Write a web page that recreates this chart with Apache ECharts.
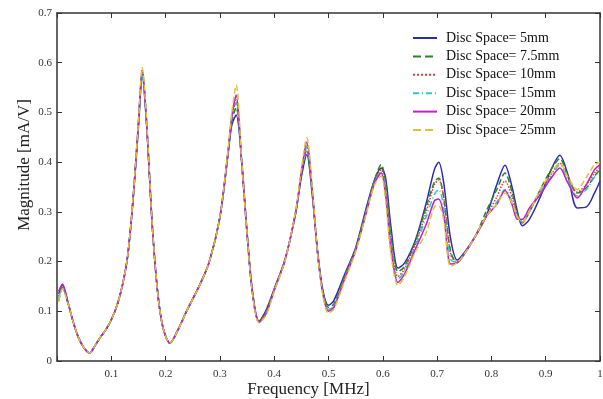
<!DOCTYPE html>
<html>
<head>
<meta charset="utf-8">
<script src="https://cdn.jsdelivr.net/npm/echarts@6/dist/echarts.min.js"></script>
<style>
  html, body { margin: 0; padding: 0; background: #fff; }
  #chart { width: 603px; height: 399px; }
</style>
</head>
<body>
<div id="chart"></div>
<script>
// frequency samples [MHz], shared by all curves
const freq = [
  0.003, 0.01, 0.02, 0.03, 0.04, 0.05, 0.06, 0.07, 0.08, 0.09,
  0.10, 0.11, 0.12, 0.13, 0.14, 0.15, 0.157, 0.165, 0.175, 0.185,
  0.195, 0.208, 0.22, 0.24, 0.26, 0.28, 0.30, 0.315, 0.322, 0.33,
  0.34, 0.35, 0.36, 0.372, 0.385, 0.40, 0.42, 0.44, 0.45, 0.46,
  0.47, 0.48, 0.49, 0.50, 0.51, 0.53, 0.55, 0.57, 0.585, 0.597,
  0.605, 0.615, 0.628, 0.64, 0.66, 0.68, 0.695, 0.703, 0.712, 0.725,
  0.737, 0.75, 0.77, 0.79, 0.81, 0.825, 0.838, 0.848, 0.857, 0.87,
  0.89, 0.91, 0.926, 0.94, 0.958, 0.975, 0.99, 1.0
];

const space5 = [
  0.135, 0.153, 0.118, 0.078, 0.046, 0.026, 0.016, 0.031, 0.048, 0.063,
  0.083, 0.11, 0.15, 0.21, 0.322, 0.47, 0.572, 0.475, 0.28, 0.142,
  0.068, 0.036, 0.057, 0.104, 0.147, 0.198, 0.288, 0.415, 0.475, 0.495,
  0.405, 0.26, 0.14, 0.08, 0.102, 0.145, 0.205, 0.3, 0.37, 0.415,
  0.335, 0.22, 0.14, 0.112, 0.122, 0.175, 0.228, 0.31, 0.365, 0.388,
  0.37, 0.27, 0.187, 0.197, 0.243, 0.318, 0.385, 0.4, 0.36, 0.245,
  0.203, 0.218, 0.25, 0.29, 0.355, 0.394, 0.35, 0.3, 0.272, 0.285,
  0.33, 0.385, 0.414, 0.378, 0.308, 0.31, 0.338, 0.362
];
const space7_5 = [
  0.12, 0.148, 0.117, 0.078, 0.046, 0.026, 0.016, 0.031, 0.048, 0.063,
  0.083, 0.11, 0.15, 0.21, 0.325, 0.478, 0.58, 0.48, 0.28, 0.142,
  0.068, 0.036, 0.056, 0.103, 0.146, 0.198, 0.29, 0.418, 0.482, 0.51,
  0.402, 0.257, 0.138, 0.079, 0.099, 0.143, 0.203, 0.3, 0.375, 0.425,
  0.34, 0.218, 0.137, 0.108, 0.115, 0.172, 0.226, 0.305, 0.365, 0.395,
  0.36, 0.255, 0.18, 0.19, 0.24, 0.31, 0.36, 0.368, 0.33, 0.22,
  0.198, 0.216, 0.25, 0.3, 0.345, 0.378, 0.34, 0.295, 0.278, 0.3,
  0.345, 0.385, 0.407, 0.375, 0.338, 0.348, 0.372, 0.385
];
const space10 = [
  0.13, 0.15, 0.118, 0.078, 0.046, 0.026, 0.016, 0.031, 0.048, 0.063,
  0.083, 0.11, 0.15, 0.21, 0.325, 0.48, 0.585, 0.48, 0.28, 0.142,
  0.068, 0.036, 0.056, 0.103, 0.146, 0.198, 0.29, 0.42, 0.488, 0.525,
  0.4, 0.256, 0.137, 0.078, 0.097, 0.143, 0.203, 0.302, 0.378, 0.435,
  0.342, 0.216, 0.135, 0.102, 0.11, 0.168, 0.224, 0.302, 0.362, 0.385,
  0.345, 0.24, 0.17, 0.185, 0.235, 0.3, 0.355, 0.364, 0.33, 0.215,
  0.198, 0.215, 0.25, 0.29, 0.33, 0.362, 0.33, 0.29, 0.278, 0.3,
  0.34, 0.375, 0.398, 0.37, 0.34, 0.355, 0.378, 0.39
];
const space15 = [
  0.125, 0.148, 0.117, 0.078, 0.046, 0.026, 0.016, 0.031, 0.048, 0.063,
  0.083, 0.11, 0.15, 0.21, 0.325, 0.478, 0.58, 0.48, 0.28, 0.142,
  0.068, 0.036, 0.056, 0.103, 0.146, 0.198, 0.29, 0.42, 0.488, 0.52,
  0.4, 0.256, 0.137, 0.078, 0.096, 0.143, 0.203, 0.302, 0.378, 0.43,
  0.342, 0.216, 0.135, 0.104, 0.11, 0.168, 0.224, 0.302, 0.36, 0.38,
  0.34, 0.235, 0.165, 0.18, 0.23, 0.29, 0.335, 0.345, 0.31, 0.205,
  0.198, 0.215, 0.25, 0.29, 0.32, 0.345, 0.32, 0.29, 0.28, 0.3,
  0.34, 0.37, 0.395, 0.365, 0.332, 0.345, 0.37, 0.38
];
const space20 = [
  0.14, 0.155, 0.119, 0.078, 0.046, 0.026, 0.016, 0.031, 0.048, 0.063,
  0.083, 0.11, 0.15, 0.21, 0.325, 0.48, 0.585, 0.48, 0.28, 0.142,
  0.068, 0.036, 0.056, 0.103, 0.146, 0.198, 0.29, 0.422, 0.492, 0.535,
  0.4, 0.255, 0.136, 0.078, 0.095, 0.142, 0.203, 0.303, 0.38, 0.44,
  0.345, 0.215, 0.133, 0.1, 0.108, 0.166, 0.222, 0.3, 0.358, 0.378,
  0.335, 0.225, 0.158, 0.175, 0.225, 0.275, 0.322, 0.326, 0.295, 0.195,
  0.198, 0.215, 0.25, 0.29, 0.315, 0.343, 0.315, 0.285, 0.285, 0.308,
  0.335, 0.368, 0.388, 0.36, 0.328, 0.355, 0.385, 0.395
];
const space25 = [
  0.12, 0.145, 0.117, 0.078, 0.046, 0.026, 0.016, 0.031, 0.048, 0.063,
  0.083, 0.11, 0.15, 0.21, 0.327, 0.482, 0.59, 0.485, 0.282, 0.142,
  0.068, 0.036, 0.056, 0.103, 0.146, 0.198, 0.29, 0.425, 0.5, 0.555,
  0.405, 0.255, 0.135, 0.077, 0.092, 0.14, 0.202, 0.305, 0.385, 0.449,
  0.35, 0.215, 0.13, 0.096, 0.105, 0.162, 0.22, 0.298, 0.355, 0.372,
  0.325, 0.215, 0.152, 0.17, 0.22, 0.258, 0.31, 0.312, 0.285, 0.19,
  0.198, 0.215, 0.25, 0.29, 0.315, 0.338, 0.318, 0.29, 0.28, 0.3,
  0.345, 0.378, 0.398, 0.372, 0.345, 0.37, 0.395, 0.4
];

const names = [
  "Disc Space= 5mm", "Disc Space= 7.5mm", "Disc Space= 10mm",
  "Disc Space= 15mm", "Disc Space= 20mm", "Disc Space= 25mm"
];
const values = [space5, space7_5, space10, space15, space20, space25];
const colors = ["#2b2bb0", "#228b22", "#e0393e", "#33c6c6", "#c21fc8", "#dcc437"];
const lineTypes = ["solid", "dashed", "dotted", [6, 3, 1, 3], "solid", "dashed"];

const font = "Liberation Serif";
const axisColor = "#333";

const chart = echarts.init(document.getElementById("chart"));

const baseX = {
  type: "value", min: 0, max: 1, interval: 0.1,
  splitLine: { show: false },
  axisLine: { onZero: false, lineStyle: { color: axisColor, width: 1.5 } },
  axisTick: { inside: true, length: 5, lineStyle: { color: axisColor } }
};
const baseY = {
  type: "value", min: 0, max: 0.7, interval: 0.1,
  splitLine: { show: false },
  axisLine: { onZero: false, lineStyle: { color: axisColor, width: 1.5 } },
  axisTick: { inside: true, length: 5, lineStyle: { color: axisColor } }
};

chart.setOption({
  animation: false,
  backgroundColor: "#fff",
  grid: { left: 57, right: 3, top: 13, bottom: 38, outerBoundsMode: "none" },
  legend: {
    orient: "vertical",
    left: 407,
    top: 26,
    itemWidth: 24,
    itemHeight: 14,
    itemGap: 4.4,
    data: names,
    itemStyle: { opacity: 0 },
    textStyle: { fontFamily: font, fontSize: 14, color: "#111", padding: [0, 0, 0, 4] }
  },
  xAxis: [
    Object.assign({}, baseX, {
      position: "bottom",
      name: "Frequency [MHz]",
      nameLocation: "middle",
      nameGap: 20,
      nameMoveOverlap: false,
      nameTextStyle: { fontFamily: font, fontSize: 17, color: "#222", padding: [0, 40, 0, 0] },
      axisLabel: {
        fontFamily: font, fontSize: 11, color: "#333", margin: 8,
        formatter: v => (v === 0 ? "" : String(+v.toFixed(1)))
      }
    }),
    Object.assign({}, baseX, { position: "top", axisLabel: { show: false } })
  ],
  yAxis: [
    Object.assign({}, baseY, {
      position: "left",
      name: "Magnitude [mA/V]",
      nameLocation: "middle",
      nameGap: 24,
      nameMoveOverlap: false,
      nameTextStyle: { fontFamily: font, fontSize: 17, color: "#222", padding: [0, 0, 0, 44] },
      axisLabel: {
        fontFamily: font, fontSize: 11, color: "#333", margin: 5,
        formatter: v => String(+v.toFixed(1))
      }
    }),
    Object.assign({}, baseY, { position: "right", axisLabel: { show: false } })
  ],
  series: names.map((name, i) => ({
    name: name,
    type: "line",
    xAxisIndex: 0,
    yAxisIndex: 0,
    symbol: "none",
    smooth: 0.3,
    color: colors[i],
    lineStyle: { color: colors[i], width: 1.5, type: lineTypes[i] },
    data: freq.map((f, j) => [f, values[i][j]])
  }))
});
</script>
</body>
</html>
